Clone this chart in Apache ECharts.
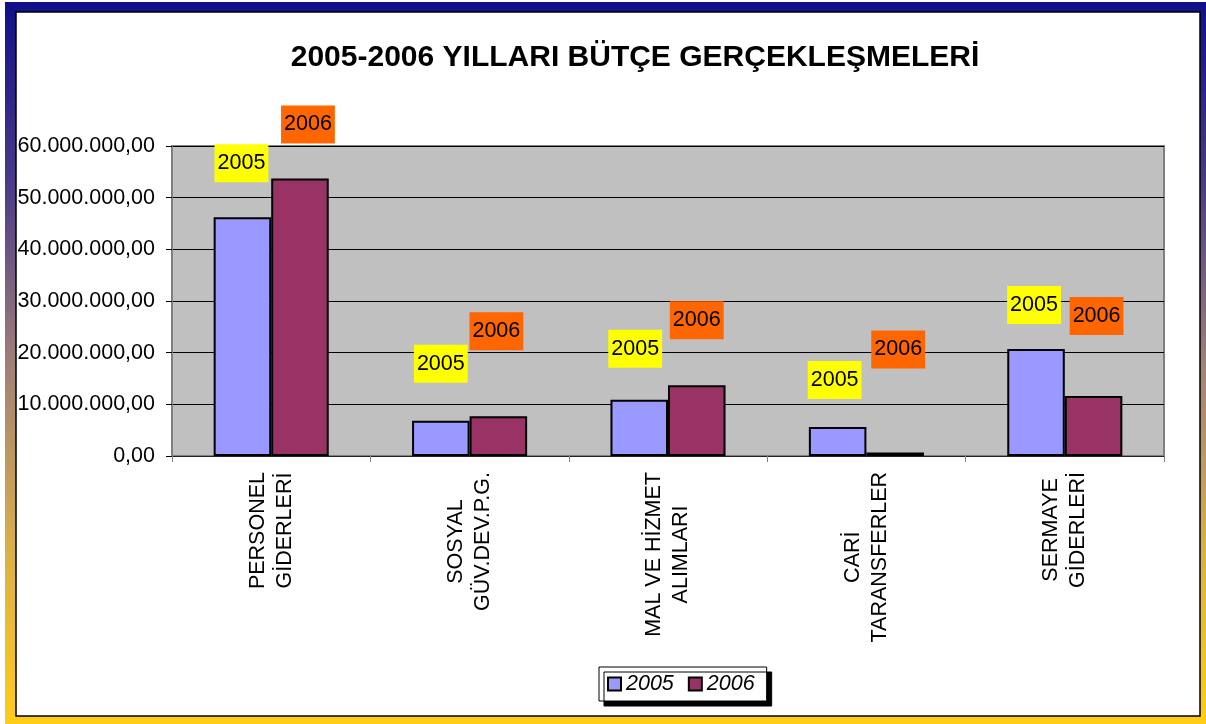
<!DOCTYPE html>
<html>
<head>
<meta charset="utf-8">
<script src="https://cdn.jsdelivr.net/npm/echarts@6/dist/echarts.min.js"></script>
<style>
  html, body { margin: 0; padding: 0; background: #fff; }
  #chart { width: 1206px; height: 724px; }
</style>
</head>
<body>
<div id="chart"></div>
<script>
// kalemler ve yıllara göre gerçekleşmeler (TL)
const kalemler = ['PERSONEL\nGİDERLERİ', 'SOSYAL\nGÜV.DEV.P.G.', 'MAL VE HİZMET\nALIMLARI', 'CARİ\nTARANSFERLER', 'SERMAYE\nGİDERLERİ']
const yil2005 = [46200000, 6800000, 10900000, 5600000, 20700000]
const yil2006 = [53700000, 7700000, 13700000, 700000, 11600000]
const seriAdlari = ['2005', '2006']

// etiket kutularının kaydırmaları (orijinal grafikteki elle yerleştirme)
const kayma2005 = [[-1, -30], [0, -33], [-4, -27], [-3, -23], [-2, -20]]
const kayma2006 = [[8, -30], [-2, -61], [0, -41], [3, -79], [3, -56]]

const FONT = 'Arial, "Liberation Sans", sans-serif'
const YAZI = 21.5

function paraFormat(value) {
    let s = Math.round(value).toString()
    s = s.replace(/\B(?=(\d{3})+(?!\d))/g, '.')
    return s + ',00'
}

const chart = echarts.init(document.getElementById('chart'))

chart.setOption({
    animation: false,
    textStyle: { fontFamily: FONT },
    graphic: [
        {
            type: 'rect',
            z: -20,
            shape: { x: 5, y: 2, width: 1201, height: 722 },
            style: {
                fill: new echarts.graphic.LinearGradient(0, 0, 0, 1, [
                    { offset: 0, color: '#10108a' },
                    { offset: 0.25, color: '#4a3a88' },
                    { offset: 0.5, color: '#a08078' },
                    { offset: 0.75, color: '#d8ae4a' },
                    { offset: 1, color: '#ffcc18' }
                ])
            }
        },
        {
            type: 'rect',
            z: -19,
            shape: { x: 16, y: 12, width: 1184, height: 704 },
            style: { fill: '#fff', stroke: '#000', lineWidth: 1.5 }
        }
    ],
    title: {
        text: '2005-2006 YILLARI BÜTÇE GERÇEKLEŞMELERİ',
        left: 630,
        textAlign: 'center',
        top: 38,
        textStyle: { fontFamily: FONT, fontSize: 30, fontWeight: 'bold', color: '#000' }
    },
    legend: {
        data: seriAdlari,
        left: 599,
        top: 667,
        icon: 'rect',
        itemWidth: 13,
        itemHeight: 13,
        itemGap: 14,
        padding: [6, 12, 6, 8],
        backgroundColor: '#fff',
        borderColor: '#000',
        borderWidth: 1,
        shadowColor: '#000',
        shadowBlur: 0,
        shadowOffsetX: 5,
        shadowOffsetY: 5,
        textStyle: { fontFamily: FONT, fontSize: YAZI, fontStyle: 'italic', color: '#000' }
    },
    grid: {
        left: 172,
        right: 42,
        top: 146,
        bottom: 268,
        show: true,
        backgroundColor: '#c0c0c0',
        borderColor: '#808080',
        borderWidth: 2
    },
    xAxis: {
        type: 'category',
        data: kalemler,
        axisLine: { lineStyle: { color: '#222', width: 1 } },
        axisTick: { show: true, length: 6, lineStyle: { color: '#808080' } },
        axisLabel: {
            rotate: 90,
            interval: 0,
            margin: 16,
            formatter: function (value) {
                return value.split('\n').map((s) => '{c|' + s + '}').join('\n')
            },
            rich: {
                c: { align: 'center', fontSize: YAZI, lineHeight: 27, color: '#000', fontFamily: FONT }
            }
        }
    },
    yAxis: {
        type: 'value',
        min: 0,
        max: 60000000,
        interval: 10000000,
        axisLine: { show: true, lineStyle: { color: '#808080', width: 2 } },
        axisTick: { show: true, length: 6, lineStyle: { color: '#000' } },
        splitLine: { lineStyle: { color: '#000', width: 1 } },
        axisLabel: {
            margin: 17,
            fontSize: YAZI,
            color: '#000',
            fontFamily: FONT,
            formatter: paraFormat
        }
    },
    series: [
        {
            name: seriAdlari[0],
            type: 'bar',
            barGap: '0%',
            barCategoryGap: '42%',
            data: yil2005.map((v, i) => ({ value: v, label: { offset: kayma2005[i] } })),
            itemStyle: { color: '#9999ff', borderColor: '#000', borderWidth: 2 },
            label: {
                show: true,
                position: 'top',
                distance: 5,
                formatter: '{a}',
                backgroundColor: '#ffff00',
                padding: [8, 3],
                lineHeight: 22,
                fontSize: YAZI,
                fontFamily: FONT,
                color: '#000'
            }
        },
        {
            name: seriAdlari[1],
            type: 'bar',
            data: yil2006.map((v, i) => ({ value: v, label: { offset: kayma2006[i] } })),
            itemStyle: { color: '#993366', borderColor: '#000', borderWidth: 2 },
            label: {
                show: true,
                position: 'top',
                distance: 5,
                formatter: '{a}',
                backgroundColor: '#ff6600',
                padding: [8, 3],
                lineHeight: 22,
                fontSize: YAZI,
                fontFamily: FONT,
                color: '#000'
            }
        }
    ]
})
</script>
</body>
</html>
